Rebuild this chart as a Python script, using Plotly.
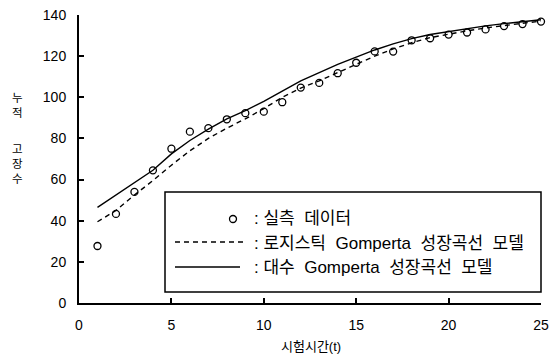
import plotly.graph_objects as go

# ---- data ----
t = list(range(1, 26))
observed = [27.7, 43.3, 54.0, 64.5, 75.0, 83.3, 85.0, 89.3, 92.3, 93.0,
            97.6, 104.7, 107.0, 111.7, 116.8, 122.3, 122.2, 127.7, 128.7, 130.5,
            131.5, 133.0, 134.6, 135.6, 136.8]
logistic_gompertz = [39.5, 45.0, 52.5, 59.5, 67.0, 74.0, 80.0, 85.0, 89.5, 94.5,
                     100.0, 104.5, 108.0, 112.0, 116.0, 120.0, 123.5, 126.5, 129.0, 130.8,
                     132.3, 133.7, 135.0, 136.0, 137.0]
log_gompertz = [46.5, 52.5, 58.5, 64.5, 72.5, 79.0, 84.5, 89.5, 93.5, 98.0,
                103.0, 108.0, 112.0, 116.0, 119.5, 123.0, 126.0, 128.5, 130.5, 132.0,
                133.3, 134.7, 135.8, 136.8, 137.7]
x_ticks = [0, 5, 10, 15, 20, 25]
y_ticks = [0, 20, 40, 60, 80, 100, 120, 140]
legend_labels = [": 실측 데이터", ": 로지스틱 Gomperta 성장곡선 모델", ": 대수 Gomperta 성장곡선 모델"]
x_title = "시험시간(t)"
y_title_chars = ["누", "적", "고", "장", "수"]

KFONT = "Liberation Sans, Noto Sans CJK KR, sans-serif"
NFONT = "Liberation Sans, Arial, sans-serif"

fig = go.Figure()
fig.add_trace(go.Scatter(x=t, y=logistic_gompertz, mode="lines",
                         line=dict(color="black", width=1.4, dash="5px,4px"),
                         showlegend=False, cliponaxis=False))
fig.add_trace(go.Scatter(x=t, y=log_gompertz, mode="lines",
                         line=dict(color="black", width=1.4),
                         showlegend=False, cliponaxis=False))
fig.add_trace(go.Scatter(x=t, y=observed, mode="markers",
                         marker=dict(symbol="circle-open", size=7, color="black",
                                     line=dict(width=1.3, color="black")),
                         showlegend=False, cliponaxis=False))

# ---- manual legend (paper coords of plot area) ----
def px(xp):
    return (xp - 79) / 462.0

def py(yp):
    return (303 - yp) / 288.0

def widen(label):
    # word gaps in the reference are wider than a single space
    head, rest = label.split(" ", 1)
    return head + " " + rest.replace(" ", "\u00a0 ")

shapes = [
    dict(type="rect", xref="paper", yref="paper", x0=px(165), x1=px(541),
         y0=py(292), y1=py(192), line=dict(color="black", width=1.5),
         fillcolor="white", layer="above"),
    dict(type="line", xref="paper", yref="paper", x0=px(175), x1=px(245),
         y0=py(242), y1=py(242), line=dict(color="black", width=1.4, dash="5px,4px")),
    dict(type="line", xref="paper", yref="paper", x0=px(175), x1=px(240),
         y0=py(267), y1=py(267), line=dict(color="black", width=1.4)),
    dict(type="circle", xref="paper", yref="paper", x0=px(229.5), x1=px(236.5),
         y0=py(222.5), y1=py(215.5), line=dict(color="black", width=1.3)),
]
annotations = []
for label, yy in zip(legend_labels, [219, 243.5, 267]):
    annotations.append(dict(text=widen(label), xref="paper", yref="paper", x=px(252), y=py(yy),
                            xanchor="left", yanchor="middle", showarrow=False,
                            font=dict(family=KFONT, size=17, color="black")))
for ch, yy in zip(y_title_chars, [97, 112, 148, 163, 178]):
    annotations.append(dict(text=ch, xref="paper", yref="paper", x=px(17), y=py(yy),
                            xanchor="center", yanchor="middle", showarrow=False, borderpad=0,
                            font=dict(family="Noto Sans CJK KR, sans-serif", size=11.5,
                                      color="black")))
annotations.append(dict(text=x_title, xref="paper", yref="paper", x=px(311), y=py(346),
                        xanchor="center", yanchor="middle", showarrow=False,
                        font=dict(family=KFONT, size=13, color="black")))

fig.update_layout(
    width=552, height=356,
    margin=dict(l=79, r=11, t=15, b=53, autoexpand=False),
    paper_bgcolor="white", plot_bgcolor="white",
    shapes=shapes, annotations=annotations,
    xaxis=dict(range=[0, 25], tickvals=x_ticks, ticks="inside", ticklen=5, tickwidth=1.5,
               tickcolor="black", showline=True, linecolor="black", linewidth=2,
               showgrid=False, zeroline=False, ticklabelstandoff=8, automargin=False,
               tickfont=dict(family=NFONT, size=14, color="black")),
    yaxis=dict(range=[0, 140], tickvals=y_ticks, ticks="inside", ticklen=5, tickwidth=1.5,
               tickcolor="black", showline=True, linecolor="black", linewidth=2,
               showgrid=False, zeroline=False, ticklabelstandoff=8, automargin=False,
               tickfont=dict(family=NFONT, size=14, color="black")),
)

fig.write_html("out.html", config={"displayModeBar": False},
               post_script="document.body.style.margin='0';")
